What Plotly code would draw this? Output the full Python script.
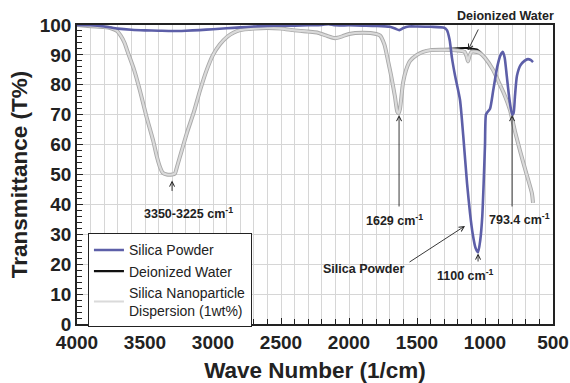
import plotly.graph_objects as go

# ---- data ----
wn_powder = [4000, 3900, 3800, 3700, 3600, 3500, 3400, 3300, 3200, 3100, 3000, 2900, 2800, 2700,
             2600, 2500, 2400, 2300, 2200, 2150, 2100, 2000, 1900, 1800, 1700, 1660, 1630, 1600,
             1560, 1500, 1400, 1300, 1280, 1260, 1243, 1220, 1184, 1160, 1132, 1110, 1090, 1070,
             1051, 1035, 1020, 1010, 1000, 993, 980, 963, 940, 910, 885, 868, 855, 840, 820, 800,
             790, 780, 765, 740, 710, 684, 665, 647]
t_powder = [100, 99.9, 99.5, 98.8, 98.4, 98.2, 98.1, 98.0, 98.1, 98.3, 98.6, 98.9, 99.2, 99.5,
            99.7, 99.8, 99.8, 99.9, 100, 100.3, 99.9, 99.9, 99.8, 99.7, 99.4, 98.8, 98.3, 99.0,
            99.5, 99.5, 99.4, 99.1, 98.3, 95, 89, 83, 75, 63, 47, 37, 30, 25.5,
            24, 28, 36, 47, 60, 70, 71, 72, 78, 86, 90, 91, 89, 83, 75, 70,
            70.5, 76, 83, 86.5, 88, 88.6, 88.3, 87.6]

wn_disp = [4000, 3900, 3800, 3750, 3706, 3680, 3650, 3632, 3580, 3537, 3490, 3441, 3410, 3390,
           3370, 3340, 3300, 3280, 3265, 3230, 3191, 3140, 3096, 3050, 3000, 2950, 2897, 2850,
           2801, 2700, 2603, 2500, 2400, 2300, 2235, 2170, 2103, 2050, 2000, 1897, 1800, 1772,
           1740, 1713, 1690, 1662, 1645, 1635, 1625, 1603, 1580, 1551, 1500, 1456, 1400, 1300,
           1200, 1150, 1135, 1125, 1115, 1100, 1060, 1037, 1000, 941, 900, 860, 816, 780, 743,
           700, 655, 647]
t_disp = [100, 99.6, 99.3, 98.9, 98, 96.5, 94, 91.6, 85, 78, 69.5, 61.5, 55.5, 52.5,
          50.6, 50, 50, 50.3, 52.5, 58, 64, 71, 78, 84.5, 90, 93.5, 96, 97.4,
          98.3, 98.8, 99, 98.8, 98.2, 97.8, 97.5, 96.5, 95.6, 96.2, 97, 97.4, 97, 96.5,
          93.5, 88, 83, 76, 71, 70.5, 72, 80.6, 85, 88, 90, 91, 91.6, 91.7,
          91.5, 91, 89.5, 87.8, 89.5, 91, 91, 90.6, 89, 85, 81, 77, 71.5, 64.5, 58,
          51, 43.7, 40.5]

wn_water = wn_disp
t_water = [100, 99.6, 99.3, 98.9, 98, 96.5, 94, 91.6, 85, 78, 69.5, 61.5, 55.5, 52.5,
           50.6, 50, 50, 50.3, 52.5, 58, 64, 71, 78, 84.5, 90, 93.5, 96, 97.4,
           98.3, 98.8, 99, 98.8, 98.2, 97.8, 97.5, 96.5, 95.6, 96.2, 97, 97.4, 97, 96.5,
           93.5, 88, 83, 76, 71, 70.5, 72, 80.6, 85, 88, 90, 91, 91.6, 91.9,
           92.2, 92.3, 92.3, 92.2, 92.2, 92.1, 91.8, 91.0, 89, 85, 81, 77, 71.5, 64.5, 58,
           51, 43.7, 40.5]

x_ticks = [4000, 3500, 3000, 2500, 2000, 1500, 1000, 500]
y_ticks = [0, 10, 20, 30, 40, 50, 60, 70, 80, 90, 100]

# peak labels: text, text position, arrow tail, arrow tip (data coords)
peak_text = ["3350-3225 cm<sup>-1</sup>", "1629 cm<sup>-1</sup>", "793.4 cm<sup>-1</sup>",
             "1100 cm<sup>-1</sup>", "Silica Powder"]
peak_text_x = [3177, 1669, 748, 1147, 1890]
peak_text_y = [37.1, 34.8, 35.1, 16.4, 18.4]
arrow_tail_x = [3301, 1632, 801, 1051, 1566, 1044]
arrow_tail_y = [44.0, 38.8, 38.8, 20.4, 20.4, 99.0]
arrow_tip_x = [3301, 1632, 801, 1051, 1147, 1125]
arrow_tip_y = [48.0, 69.9, 69.9, 23.6, 32.8, 91.6]
top_label = "Deionized Water"
top_label_x = 846

FONT = "Liberation Sans, Arial, Helvetica, sans-serif"
BLUE = "#5d5fa8"
INK = "#222222"

fig = go.Figure()

fig.add_trace(go.Scatter(x=wn_water, y=t_water, mode="lines", name="Deionized Water",
                         line=dict(color="#111111", width=2.2, shape="spline", smoothing=0.6),
                         legendrank=2, legendgroup="b"))
fig.add_trace(go.Scatter(x=wn_disp, y=t_disp, mode="lines", showlegend=False,
                         line=dict(color="#a9a9a9", width=4, shape="spline", smoothing=0.6),
                         hoverinfo="skip", legendgroup="c"))
fig.add_trace(go.Scatter(x=wn_disp, y=t_disp, mode="lines",
                         name="Silica Nanoparticle<br>Dispersion (1wt%)",
                         line=dict(color="#dadada", width=2.2, shape="spline", smoothing=0.6),
                         legendrank=3, legendgroup="c"))
fig.add_trace(go.Scatter(x=wn_powder, y=t_powder, mode="lines", name="Silica Powder",
                         line=dict(color=BLUE, width=2.6, shape="spline", smoothing=0.6),
                         legendrank=1, legendgroup="a"))

for i in range(len(arrow_tip_x)):
    fig.add_annotation(x=arrow_tip_x[i], y=arrow_tip_y[i], ax=arrow_tail_x[i], ay=arrow_tail_y[i],
                       axref="x", ayref="y", xref="x", yref="y", text="", showarrow=True,
                       arrowhead=5, arrowsize=1.1, arrowwidth=0.9, arrowcolor=INK)
for i in range(len(peak_text)):
    fig.add_annotation(x=peak_text_x[i], y=peak_text_y[i], xref="x", yref="y",
                       text=peak_text[i], showarrow=False,
                       xanchor="center", yanchor="middle",
                       font=dict(family=FONT, size=12.5, color=INK, weight="bold"))
fig.add_annotation(x=top_label_x, y=1.03, xref="x", yref="paper", text=top_label,
                   showarrow=False, xanchor="center", yanchor="middle",
                   font=dict(family=FONT, size=12.5, color=INK, weight="bold"))

fig.update_xaxes(range=[4000, 500], tickvals=x_ticks, ticks="inside", ticklen=6, tickwidth=1,
                 tickcolor=INK, showgrid=True, gridcolor="#d6d6d6", gridwidth=1,
                 minor=dict(dtick=100, tick0=0, ticks="inside", ticklen=5, tickcolor=INK,
                            showgrid=True, gridcolor="#d6d6d6", gridwidth=1),
                 showline=True, linecolor=INK, linewidth=1.5, mirror=True,
                 zeroline=False, automargin=False,
                 tickfont=dict(family=FONT, size=19, color=INK, weight="bold"),
                 title=dict(text="Wave Number (1/cm)", standoff=13,
                            font=dict(family=FONT, size=22.5, color=INK, weight="bold")))
fig.update_yaxes(range=[0, 100], tickvals=y_ticks, ticks="inside", ticklen=6, tickwidth=1,
                 tickcolor=INK, showgrid=True, gridcolor="#d6d6d6", gridwidth=1,
                 minor=dict(dtick=2, tick0=0, ticks="inside", ticklen=5, tickcolor=INK,
                            showgrid=False),
                 showline=True, linecolor=INK, linewidth=1.5, mirror=True,
                 zeroline=False, automargin=False,
                 tickfont=dict(family=FONT, size=19, color=INK, weight="bold"),
                 title=dict(text="Transmittance (T%)", standoff=6,
                            font=dict(family=FONT, size=22.5, color=INK, weight="bold")))

fig.update_layout(
    width=570, height=383,
    margin=dict(l=77, r=17, t=25, b=59),
    paper_bgcolor="white", plot_bgcolor="white",
    legend=dict(x=0.023, y=0.303, xanchor="left", yanchor="top",
                bgcolor="white", bordercolor=INK, borderwidth=1,
                font=dict(family=FONT, size=14, color=INK),
                traceorder="grouped", tracegroupgap=0),
)

fig.write_html("out.html")
